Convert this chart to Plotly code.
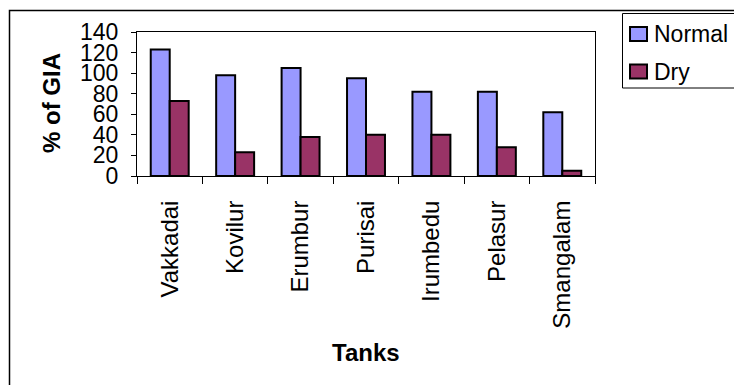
import plotly.graph_objects as go

# Irrigated area as a share of gross irrigated area (GIA), per tank
tanks = ["Vakkadai", "Kovilur", "Erumbur", "Purisai", "Irumbedu", "Pelasur", "Smangalam"]
normal_year = [123, 98, 105, 95, 82, 82, 62]
dry_year = [73, 23, 38, 40, 40, 28, 5]
y_ticks = [0, 20, 40, 60, 80, 100, 120, 140]
series_names = ["Normal", "Dry"]
series_colors = ["#9999FF", "#993366"]

FONT = "Liberation Sans, Arial, sans-serif"
W, H = 734, 385
L, R, T, B = 137, 139, 32, 209
pw, ph = W - L - R, H - T - B


def px_x(x):
    return (x - L) / pw


def px_y(y):
    return (H - B - y) / ph


fig = go.Figure()
for name, vals, col in zip(series_names, [normal_year, dry_year], series_colors):
    fig.add_trace(go.Bar(
        name=name, x=tanks, y=vals, showlegend=False,
        marker=dict(color=col, line=dict(color="black", width=2)),
    ))

shapes = [
    # outer chart frame
    dict(type="rect", xref="paper", yref="paper",
         x0=px_x(9.5), x1=px_x(900), y0=px_y(600), y1=px_y(10.5),
         line=dict(color="black", width=1.5), layer="below"),
    # legend box
    dict(type="rect", xref="paper", yref="paper",
         x0=px_x(622.5), x1=px_x(900), y0=px_y(88), y1=px_y(13.5),
         line=dict(color="black", width=1), fillcolor="white", layer="below"),
]
annotations = [
    dict(text="<b>% of GIA</b>", xref="paper", yref="paper", x=px_x(51), y=px_y(103),
         showarrow=False, textangle=-90, font=dict(family=FONT, size=24),
         xanchor="center", yanchor="middle"),
    dict(text="<b>Tanks</b>", xref="paper", yref="paper", x=px_x(366), y=px_y(352),
         showarrow=False, font=dict(family=FONT, size=24),
         xanchor="center", yanchor="middle"),
]
# legend entries: swatch + label
for i, (name, col) in enumerate(zip(series_names, series_colors)):
    yc = 34 + i * 37.5
    shapes.append(dict(type="rect", xref="paper", yref="paper",
                       x0=px_x(630), x1=px_x(647), y0=px_y(yc + 7), y1=px_y(yc - 7),
                       fillcolor=col, line=dict(color="black", width=2)))
    annotations.append(dict(text=name, xref="paper", yref="paper",
                            x=px_x(652), y=px_y(yc), xanchor="left", yanchor="middle",
                            showarrow=False, font=dict(family=FONT, size=23)))

fig.update_layout(
    width=W, height=H,
    margin=dict(l=L, r=R, t=T, b=B),
    paper_bgcolor="white", plot_bgcolor="white",
    font=dict(family=FONT, size=22, color="black"),
    barmode="group", bargap=0.42, bargroupgap=0,
    showlegend=False,
    xaxis=dict(
        type="category", tickson="boundaries", ticks="outside", ticklen=7,
        tickcolor="black", showline=True, linecolor="black", linewidth=1,
        mirror=True, tickangle=-90, showgrid=False,
        tickfont=dict(family=FONT, size=24), ticklabelstandoff=14,
    ),
    yaxis=dict(
        range=[0, 140], tickvals=y_ticks, ticks="outside", ticklen=5,
        tickcolor="black", showline=True, linecolor="black", linewidth=1,
        mirror=True, showgrid=False, zeroline=False,
        tickfont=dict(family=FONT, size=23), ticklabelstandoff=8,
    ),
    shapes=shapes,
    annotations=annotations,
)

fig.write_html("out.html")
